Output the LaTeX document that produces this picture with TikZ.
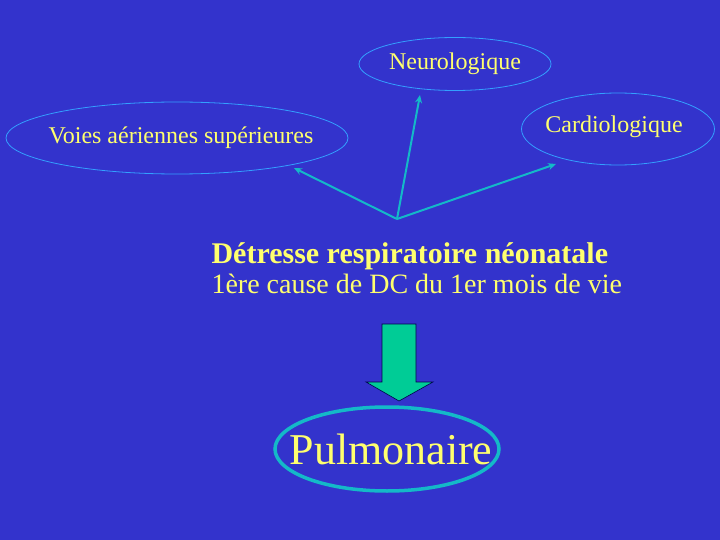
\documentclass[tikz,border=0pt]{standalone}
\usepackage{fontspec}
\setmainfont{Liberation Serif}
\usepackage{xcolor}
\usetikzlibrary{shapes.geometric,arrows.meta}

\definecolor{fond}{RGB}{51,51,204}
\definecolor{jaune}{RGB}{255,255,110}
\definecolor{bord}{RGB}{51,160,255}
\definecolor{fleche}{RGB}{20,185,200}
\definecolor{vert}{RGB}{0,204,150}

\tikzset{
  bulle/.style={ellipse,draw=bord,line width=0.8pt,inner sep=0pt},
  etiquette/.style={text=jaune,font=\fontsize{24}{28}\selectfont},
  lien/.style={draw=fleche,line width=2pt,-{Stealth[length=8pt,width=7pt]}}
}

\begin{document}
\begin{tikzpicture}[x=1pt,y=-1pt]
\useasboundingbox (0,0) rectangle (720,540);
\fill[fond] (0,0) rectangle (720,540);

\node[bulle,minimum width=192,minimum height=53,
  label={[etiquette]center:Neurologique}] (neuro) at (455,64) {};
\node[bulle,minimum width=193,minimum height=72,
  label={[etiquette,xshift=-4pt,yshift=2pt]center:Cardiologique}] (cardio) at (618,129) {};
\node[bulle,minimum width=342,minimum height=72,
  label={[etiquette,xshift=4pt]center:Voies aériennes supérieures}] (voies) at (177,138) {};

\coordinate (depart) at (397,219);
\coordinate (bout voies) at (294,168);
\coordinate (bout neuro) at (420,95);
\coordinate (bout cardio) at (556,164);

\draw[lien] (depart) -- (bout voies);
\draw[lien] (depart) -- (bout neuro);
\draw[lien] (depart) -- (bout cardio);

\node[anchor=base west,text=jaune,font=\fontsize{30}{30}\selectfont\bfseries] (titre) at (208,263) {Détresse respiratoire néonatale};
\node[anchor=base west,text=jaune,font=\fontsize{28}{30}\selectfont] (cause) at (208,293) {1ère cause de DC du 1er mois de vie};

% grosse fleche verte
\filldraw[fill=vert,draw=black!70!blue,line width=0.6pt]
  (382,324) -- (416,324) -- (416,382) -- (433,382) -- (399,401)
  -- (366,382) -- (382,382) -- cycle;

\node[ellipse,draw=fleche,line width=3.5pt,inner sep=0pt,minimum width=224,minimum height=84,
  label={[text=jaune,font=\fontsize{44}{48}\selectfont,xshift=4pt]center:Pulmonaire}] (pulmo) at (387,449) {};
\end{tikzpicture}
\end{document}
